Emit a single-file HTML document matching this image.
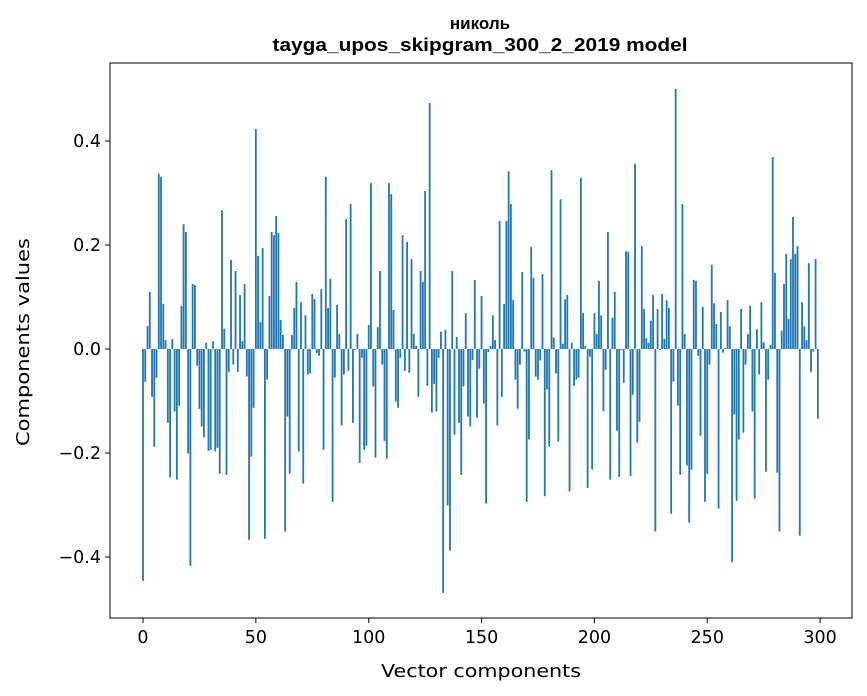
<!DOCTYPE html>
<html><head><meta charset="utf-8"><style>
body{margin:0;background:#fff;}
svg{display:block;font-family:"DejaVu Sans","Liberation Sans",sans-serif;}
</style></head><body>
<svg id="chart" width="867" height="696" viewBox="0 0 867 696" xmlns="http://www.w3.org/2000/svg">
<rect x="0" y="0" width="867" height="696" fill="#fff"/>
<text x="480" y="29" text-anchor="middle" font-size="17" font-weight="bold" font-family="Liberation Sans, Arial, sans-serif">николь</text>
<text x="480" y="51" text-anchor="middle" font-size="18" font-weight="bold" font-family="Liberation Sans, Arial, sans-serif" textLength="415" lengthAdjust="spacingAndGlyphs">tayga_upos_skipgram_300_2_2019 model</text>
<g id="bars"></g>
<g id="axes"></g>
<rect x="110" y="63" width="742" height="555" fill="none" stroke="#000" stroke-width="1"/>
<text x="481" y="677" text-anchor="middle" font-size="18" textLength="200" lengthAdjust="spacingAndGlyphs">Vector components</text>
<text transform="translate(29,342) rotate(-90)" text-anchor="middle" font-size="18" textLength="208" lengthAdjust="spacingAndGlyphs">Components values</text>
</svg>
<script>
const values = [-0.446,-0.063,0.044,0.11,-0.092,-0.188,-0.055,0.337,0.331,0.087,0.017,-0.142,-0.247,0.019,-0.12,-0.251,-0.109,0.083,0.24,0.225,-0.201,-0.417,0.125,0.123,-0.032,-0.115,-0.149,-0.17,0.012,-0.196,-0.194,0.015,-0.197,-0.19,-0.24,0.267,0.039,-0.242,-0.044,0.171,-0.03,0.15,-0.044,0.104,0.015,0.125,-0.053,-0.367,-0.207,-0.113,
0.423,0.179,0.052,0.194,-0.365,-0.059,0.102,0.225,0.219,0.256,0.223,0.056,0.027,-0.351,-0.13,-0.24,0.027,0.079,0.129,-0.197,0.09,-0.259,0.065,-0.049,-0.047,0.106,0.096,-0.008,-0.013,0.115,-0.194,0.331,0.079,0.135,-0.294,-0.055,0.085,0.029,-0.147,-0.049,0.25,-0.042,0.279,-0.142,-0.002,0.029,-0.219,-0.017,-0.194,-0.186,
0.046,0.319,-0.072,-0.209,0.042,0.15,-0.03,-0.177,-0.211,0.319,0.298,0.075,-0.101,-0.113,-0.017,0.219,-0.042,0.206,-0.046,0.173,0.029,0.006,-0.092,0.15,0.129,0.304,-0.071,0.473,-0.122,-0.067,-0.12,-0.017,0.033,-0.469,0.037,-0.301,-0.388,0.15,-0.165,0.023,-0.142,-0.242,-0.072,0.069,-0.13,-0.149,-0.021,0.133,-0.132,-0.038,
0.102,-0.105,-0.297,-0.006,0.006,0.065,0.017,-0.147,0.246,-0.092,0.087,0.246,0.342,0.279,0.094,-0.059,-0.115,-0.03,0.148,-0.005,-0.294,-0.174,0.196,0.137,-0.053,-0.059,-0.022,0.144,-0.283,-0.078,-0.188,0.344,0.022,-0.047,-0.178,0.288,0.01,0.096,0.104,-0.274,0.012,-0.071,-0.059,-0.055,0.329,0.069,0.006,-0.267,-0.015,-0.232,
0.069,0.029,0.131,0.065,-0.12,-0.04,0.225,-0.251,0.06,0.11,-0.157,-0.246,-0.002,-0.065,0.188,0.187,-0.244,-0.088,0.356,-0.18,-0.14,0.198,0.077,0.021,0.012,0.054,0.104,-0.351,0.077,-0.002,0.106,0.019,0.094,0.079,-0.317,-0.063,0.5,-0.109,-0.242,0.279,0.029,-0.224,-0.334,-0.232,0.133,0.131,-0.013,-0.167,0.081,-0.294,
-0.24,-0.03,0.162,0.088,0.048,-0.307,0.071,-0.007,0.002,0.094,0.044,-0.41,-0.126,-0.292,-0.174,0.077,-0.161,-0.03,0.029,0.083,-0.12,-0.288,0.038,-0.049,0.09,0.013,-0.236,-0.059,0.008,0.369,0.146,-0.238,-0.351,0.035,0.125,0.183,0.058,0.173,0.254,0.183,0.198,-0.359,0.09,0.044,0.017,0.165,-0.044,-0.005,0.173,-0.134];
const xTicks = [0,50,100,150,200,250,300];
const yTicks = [-0.4,-0.2,0,0.2,0.4];
const yTickLabels = ["\u22120.4","\u22120.2","0.0","0.2","0.4"];

const NS="http://www.w3.org/2000/svg";
const X0=110,X1=852,Y0=63,Y1=618;
const xMin=-14.62,xMax=314.13,yMin=-0.5173,yMax=0.55;
function xs(v){return X0+(v-xMin)/(xMax-xMin)*(X1-X0);}
function ys(v){return Y1-(v-yMin)/(yMax-yMin)*(Y1-Y0);}
const bars=document.getElementById('bars');
values.forEach((v,i)=>{
  const r=document.createElementNS(NS,'rect');
  const xl=xs(i-0.4),xr=xs(i+0.4);
  const yt=ys(Math.max(v,0)),yb=ys(Math.min(v,0));
  r.setAttribute('x',xl);r.setAttribute('width',xr-xl);
  r.setAttribute('y',yt);r.setAttribute('height',Math.max(yb-yt,0.3));
  r.setAttribute('fill','#1f77b4');
  
  
  bars.appendChild(r);
});
const axes=document.getElementById('axes');
xTicks.forEach(t=>{
  const x=xs(t);
  const l=document.createElementNS(NS,'line');
  l.setAttribute('x1',x);l.setAttribute('x2',x);l.setAttribute('y1',Y1);l.setAttribute('y2',Y1+5);
  l.setAttribute('stroke','#000');
  
  
  axes.appendChild(l);
  const tx=document.createElementNS(NS,'text');
  tx.setAttribute('x',x);tx.setAttribute('y',Y1+25);tx.setAttribute('text-anchor','middle');tx.setAttribute('font-size','17.5');
  tx.textContent=t;
  
  
  axes.appendChild(tx);
});
yTicks.forEach((t,i)=>{
  const y=ys(t);
  const l=document.createElementNS(NS,'line');
  l.setAttribute('x1',X0-5);l.setAttribute('x2',X0);l.setAttribute('y1',y);l.setAttribute('y2',y);
  l.setAttribute('stroke','#000');
  
  
  axes.appendChild(l);
  const tx=document.createElementNS(NS,'text');
  tx.setAttribute('x',X0-9);tx.setAttribute('y',y+6);tx.setAttribute('text-anchor','end');tx.setAttribute('font-size','17.5');
  tx.textContent=yTickLabels[i];
  
  
  axes.appendChild(tx);
});
</script>
</body></html>
